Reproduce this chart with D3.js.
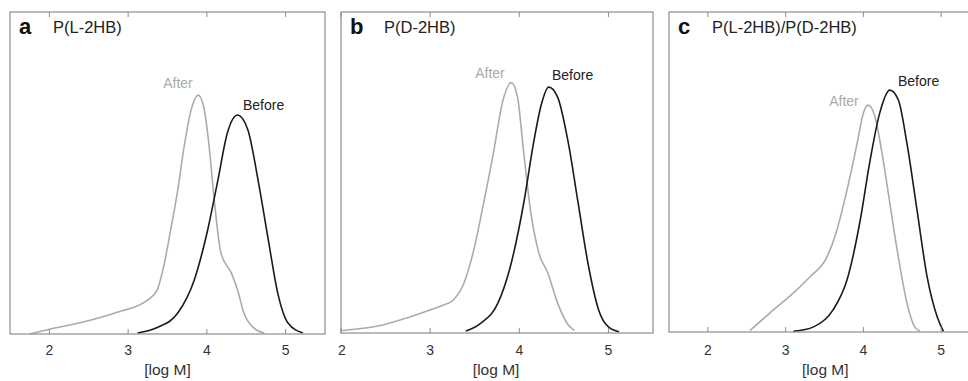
<!DOCTYPE html>
<html>
<head>
  <script src="https://d3js.org/d3.v7.js"></script>
  <style>
    html, body {
      margin: 0px;
      padding: 0px;
      background: #fff;
      font-family: "Liberation Sans", Arial, Helvetica, sans-serif;
    }
    .frame { fill: none; stroke: #8c8c8c; stroke-width: 1.2; }
    .tick-label { font-size: 14px; fill: #333; }
    .axisLabel { font-size: 15.5px; fill: #333; }
    .letter { font-size: 22px; font-weight: bold; fill: #111; }
    .title { font-size: 16.5px; fill: #222; }
    .curveLabel { font-size: 14px; }
    .curve { fill: none; stroke-width: 1.6; }
  </style>
</head>
<body>
  <div id="chart"></div>
  <script>
    // tick values shared by all panels
    const ticks = [2, 3, 4, 5];

    // [log M, relative density]
    const aAfter = [[1.75,0],[2.0,0.015],[2.43,0.037],[2.87,0.068],[3.25,0.106],[3.37,0.137],[3.45,0.208],
      [3.54,0.323],[3.63,0.447],[3.71,0.58],[3.80,0.696],[3.89,0.742],[3.96,0.705],[4.03,0.58],[4.09,0.425],
      [4.18,0.25],[4.31,0.19],[4.39,0.137],[4.47,0.065],[4.60,0.018],[4.73,0.003]];
    const aBefore = [[3.12,0.003],[3.37,0.02],[3.63,0.065],[3.84,0.168],[4.01,0.323],[4.14,0.478],[4.26,0.624],
      [4.39,0.68],[4.52,0.634],[4.65,0.478],[4.78,0.292],[4.90,0.127],[5.03,0.034],[5.22,0.003]];

    const bAfter = [[2.01,0.008],[2.47,0.025],[2.74,0.047],[3.0,0.072],[3.15,0.087],[3.26,0.103],[3.38,0.156],
      [3.49,0.259],[3.60,0.405],[3.71,0.561],[3.81,0.717],[3.91,0.78],[3.98,0.735],[4.05,0.561],[4.13,0.374],
      [4.22,0.249],[4.32,0.187],[4.43,0.093],[4.55,0.025],[4.62,0.008]];
    const bBefore = [[3.40,0.006],[3.57,0.031],[3.76,0.093],[3.91,0.218],[4.05,0.405],[4.16,0.592],[4.24,0.704],
      [4.33,0.766],[4.43,0.735],[4.55,0.592],[4.66,0.405],[4.77,0.218],[4.89,0.072],[5.0,0.019],[5.12,0.004]];

    const cAfter = [[2.54,0.004],[2.80,0.06],[3.10,0.122],[3.31,0.172],[3.53,0.234],[3.66,0.319],[3.79,0.444],
      [3.92,0.59],[4.0,0.684],[4.06,0.709],[4.15,0.672],[4.24,0.559],[4.34,0.403],[4.45,0.234],[4.56,0.091],
      [4.66,0.016],[4.73,0.003]];
    const cBefore = [[3.10,0.002],[3.36,0.016],[3.61,0.069],[3.79,0.163],[3.96,0.35],[4.08,0.528],[4.21,0.684],
      [4.34,0.756],[4.45,0.725],[4.56,0.59],[4.69,0.381],[4.82,0.172],[4.95,0.047],[5.03,0.002]];

    const panels = [
      {letter: "a", title: "P(L-2HB)", after: aAfter, before: aBefore,
       left: 10, right: 325, top: 12, bottom: 334, domain: [1.5, 5.5], labelAt: 3.5,
       afterLabel: [178, 88], beforeLabel: [243, 110]},
      {letter: "b", title: "P(D-2HB)", after: bAfter, before: bBefore,
       left: 341, right: 653, top: 12, bottom: 333, domain: [2, 5.5], labelAt: 3.74,
       afterLabel: [490, 78], beforeLabel: [552, 80]},
      {letter: "c", title: "P(L-2HB)/P(D-2HB)", after: cAfter, before: cBefore,
       left: 669, right: 980, top: 12, bottom: 332, domain: [1.5, 5.5], labelAt: 3.51,
       afterLabel: [844, 106], beforeLabel: [898, 86]}
    ];

    const svg = d3.select("#chart")
      .append("svg")
      .attr("width", 968)
      .attr("height", 381);

    panels.forEach(function(p) {
      const g = svg.append("g");

      const xScale = d3.scaleLinear().domain(p.domain).range([p.left, p.right]);
      const yScale = d3.scaleLinear().domain([0, 1]).range([p.bottom, p.top]);

      const line = d3.line()
        .x(d => xScale(d[0]))
        .y(d => yScale(d[1]))
        .curve(d3.curveMonotoneX);

      // curves
      g.append("path").attr("class", "curve").attr("stroke", "#ababab").attr("d", line(p.after));
      g.append("path").attr("class", "curve").attr("stroke", "#1a1a1a").attr("d", line(p.before));

      // frame
      g.append("rect").attr("class", "frame")
        .attr("x", p.left).attr("y", p.top)
        .attr("width", p.right - p.left).attr("height", p.bottom - p.top);

      // inward ticks on top and bottom
      g.selectAll(".tb").data(ticks).enter().append("line")
        .attr("x1", d => xScale(d)).attr("x2", d => xScale(d))
        .attr("y1", p.bottom).attr("y2", p.bottom - 5)
        .attr("stroke", "#8c8c8c");
      g.selectAll(".tt").data(ticks).enter().append("line")
        .attr("x1", d => xScale(d)).attr("x2", d => xScale(d))
        .attr("y1", p.top).attr("y2", p.top + 5)
        .attr("stroke", "#8c8c8c");

      g.selectAll(".tl").data(ticks).enter().append("text")
        .attr("class", "tick-label")
        .attr("x", d => xScale(d) + (d === 2 && p.letter === "b" ? 1 : 0))
        .attr("y", 355)
        .attr("text-anchor", "middle")
        .text(d => d);

      g.append("text").attr("class", "axisLabel")
        .attr("x", xScale(p.labelAt))
        .attr("y", 375)
        .attr("text-anchor", "middle")
        .text("[log M]");

      g.append("text").attr("class", "letter")
        .attr("x", p.left + 9).attr("y", 34).text(p.letter);
      g.append("text").attr("class", "title")
        .attr("x", p.left + 43).attr("y", 33).text(p.title);

      g.append("text").attr("class", "curveLabel")
        .attr("x", p.afterLabel[0]).attr("y", p.afterLabel[1])
        .attr("text-anchor", "middle")
        .style("fill", "#aaaaaa")
        .text("After");
      g.append("text").attr("class", "curveLabel")
        .attr("x", p.beforeLabel[0]).attr("y", p.beforeLabel[1])
        .style("fill", "#222")
        .text("Before");
    });
  </script>
</body>
</html>
